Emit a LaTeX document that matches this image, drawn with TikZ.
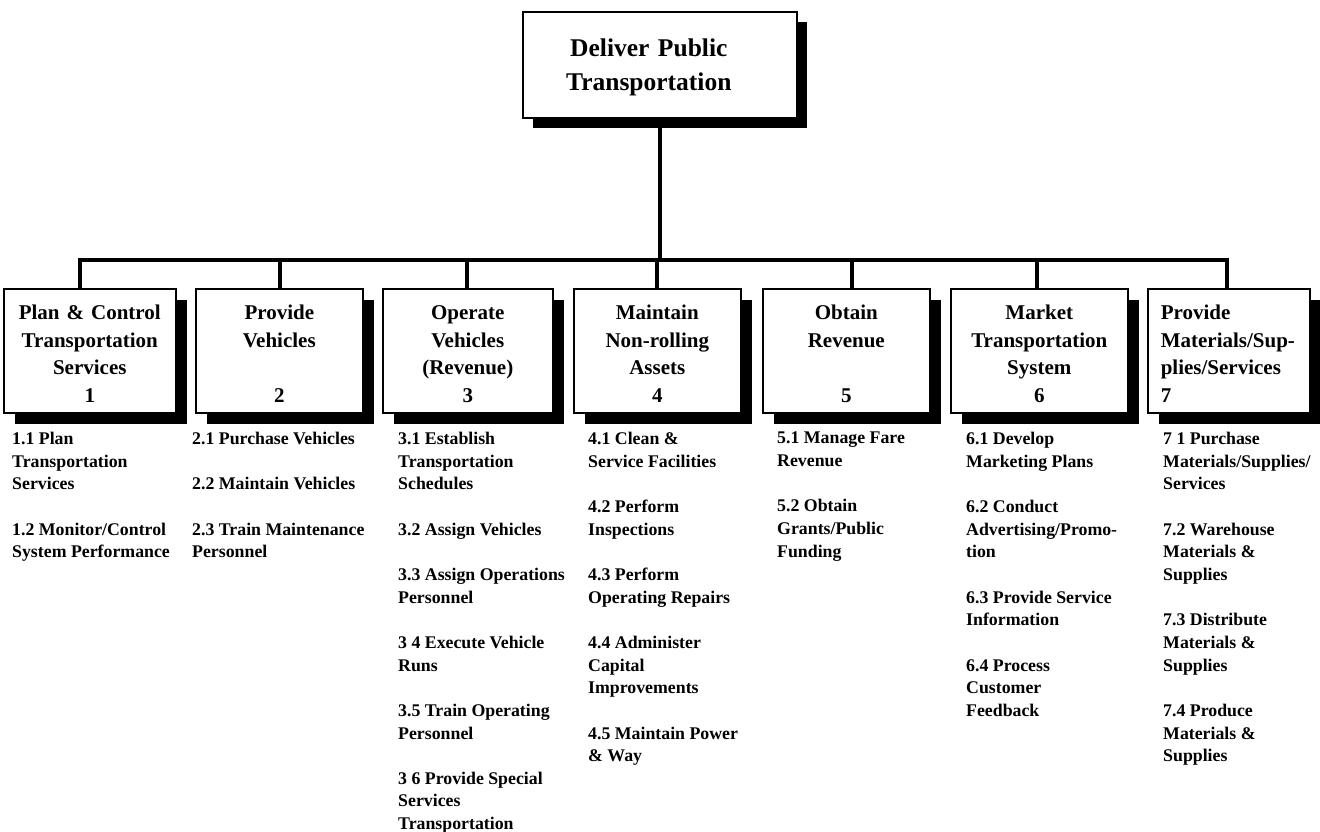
\documentclass[tikz,border=0pt]{standalone}
\usepackage{fontspec}
\setmainfont{Liberation Serif}
\usetikzlibrary{shadows}
\begin{document}
\begin{tikzpicture}[x=1pt,y=-1pt,
  box/.style={draw=black, line width=1.6pt, fill=white, inner sep=0pt,
    anchor=north west, minimum height=124pt, align=center,
    drop shadow={shadow xshift=11pt, shadow yshift=-11pt, fill=black, opacity=1},
    font=\fontsize{21}{27.8}\selectfont\bfseries,
    execute at begin node={\rule{0pt}{20.5pt}}},
  topbox/.style={draw=black, line width=1.6pt, fill=white, inner sep=0pt,
    anchor=north west, align=center,
    drop shadow={shadow xshift=10pt, shadow yshift=-10pt, fill=black, opacity=1},
    font=\fontsize{25.5}{34}\selectfont\bfseries,
    execute at begin node={\rule{0pt}{23.6pt}}},
  link/.style={line width=4.5pt, line join=miter},
  task/.style={anchor=north west, inner sep=0pt, align=left,
    font=\fontsize{17.8}{22.65}\selectfont\bfseries}]
\useasboundingbox (0,0) rectangle (1320,832);

% top level function
\node[topbox, minimum width=274pt, minimum height=106pt, text width=260pt]
  (top) at (522,11) {\hspace*{-22pt}Deliver Public\\\hspace*{-22pt}Transportation};

% junctions on the horizontal bus
\coordinate (j1) at (80,260);
\coordinate (j2) at (280,260);
\coordinate (j3) at (467,260);
\coordinate (j4) at (657,260);
\coordinate (j5) at (852,260);
\coordinate (j6) at (1037,260);
\coordinate (j7) at (1227,260);

% second level functions
\node[box, minimum width=172pt, text width=164pt] (p1) at (3,288)
  {Plan \& Control\\Transportation\\Services\\1};
\node[box, minimum width=167pt, text width=159pt] (p2) at (195,288)
  {Provide\\Vehicles\\~\\2};
\node[box, minimum width=170pt, text width=162pt] (p3) at (382,288)
  {Operate\\Vehicles\\(Revenue)\\3};
\node[box, minimum width=167pt, text width=159pt] (p4) at (573,288)
  {Maintain\\Non-rolling\\Assets\\4};
\node[box, minimum width=167pt, text width=159pt] (p5) at (762,288)
  {Obtain\\Revenue\\~\\5};
\node[box, minimum width=177pt, text width=169pt] (p6) at (950,288)
  {Market\\Transportation\\System\\6};
\node[box, minimum width=162pt, text width=136pt, align=left] (p7) at (1147,288)
  {Provide\\Materials/Sup-\\plies/Services\\7};

% connectors
\draw[link] (top.south) -- (top.south |- j4);
\draw[link] (j1 |- p1.north) -- (j1) -- (j7) -- (j7 |- p7.north);
\draw[link] (j2) -- (j2 |- p2.north);
\draw[link] (j3) -- (j3 |- p3.north);
\draw[link] (j4) -- (j4 |- p4.north);
\draw[link] (j5) -- (j5 |- p5.north);
\draw[link] (j6) -- (j6 |- p6.north);

% third level activities
\def\gap{\\[22.65pt]}
\node[task] (t1) at (12,432)
  {1.1 Plan\\Transportation\\Services\gap 1.2 Monitor/Control\\System Performance};
\node[task] (t2) at (192,432)
  {2.1 Purchase Vehicles\gap 2.2 Maintain Vehicles\gap 2.3 Train Maintenance\\Personnel};
\node[task] (t3) at (398,432)
  {3.1 Establish\\Transportation\\Schedules\gap 3.2 Assign Vehicles\gap
   3.3 Assign Operations\\Personnel\gap 3 4 Execute Vehicle\\Runs\gap
   3.5 Train Operating\\Personnel\gap 3 6 Provide Special\\Services\\Transportation};
\node[task] (t4) at (588,432)
  {4.1 Clean \&\\Service Facilities\gap 4.2 Perform\\Inspections\gap
   4.3 Perform\\Operating Repairs\gap 4.4 Administer\\Capital\\Improvements\gap
   4.5 Maintain Power\\\& Way};
\node[task] (t5) at (777,432)
  {5.1 Manage Fare\\Revenue\gap 5.2 Obtain\\Grants/Public\\Funding};
\node[task] (t6) at (966,432)
  {6.1 Develop\\Marketing Plans\gap 6.2 Conduct\\Advertising/Promo-\\tion\gap
   6.3 Provide Service\\Information\gap 6.4 Process\\Customer\\Feedback};
\node[task] (t7) at (1163,432)
  {7 1 Purchase\\Materials/Supplies/\\Services\gap 7.2 Warehouse\\Materials \&\\Supplies\gap
   7.3 Distribute\\Materials \&\\Supplies\gap 7.4 Produce\\Materials \&\\Supplies};
\end{tikzpicture}
\end{document}
